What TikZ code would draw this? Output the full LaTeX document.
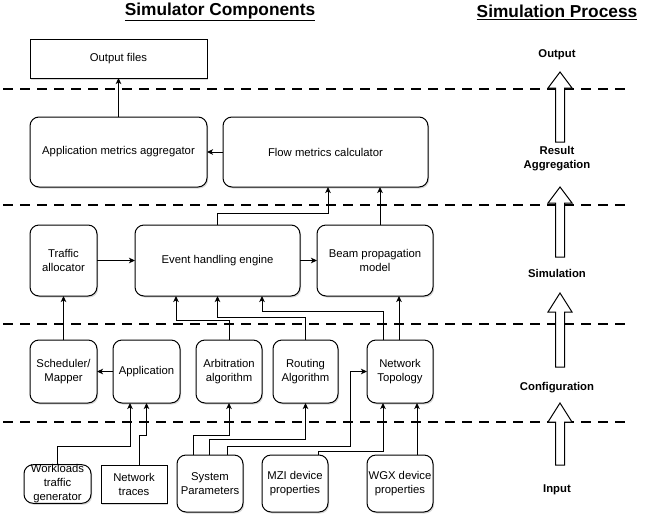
\documentclass[tikz,border=0pt]{standalone}
\usepackage{fontspec}
\setmainfont{Liberation Sans}
\usetikzlibrary{arrows.meta,shadows}
\newcommand\blockarrow[3]{\draw[blk] (560,#1) -- (572,#2) -- (564.5,#2) -- (564.5,#3) -- (555.5,#3) -- (555.5,#2) -- (548,#2) -- cycle;}
\begin{document}
\begin{tikzpicture}[x=1pt,y=-1pt,
  base/.style={draw, line width=1pt, fill=white, inner sep=1pt, outer sep=0pt, align=center,
    font=\fontsize{11.3}{14}\selectfont,
    drop shadow={shadow xshift=1.2pt,shadow yshift=-1.5pt,opacity=0.3}},
  rbox/.style={base, rounded corners=9pt},
  sbox/.style={base},
  wh/.style 2 args={minimum width=#1pt, minimum height=#2pt},
  conn/.style={line width=1pt, -{Stealth[length=6pt,width=5.5pt,inset=1.5pt]}},
  sep/.style={line width=2.5pt, dash pattern=on 10pt off 7pt},
  stage/.style={font=\bfseries\fontsize{11.3}{14}\selectfont, align=center},
  title/.style={font=\bfseries\fontsize{17.3}{20}\selectfont},
  blk/.style={draw, line width=1pt, fill=white}
]
\useasboundingbox (0,0) rectangle (646,515);

% separators
\foreach \yy in {89,205,324,422} {\draw[sep] (3,\yy) -- (625,\yy);}

% titles
\node[title] (t1) at (220,12) {\underline{Simulator Components}};
\node[title] (t2) at (557,12) {\underline{Simulation Process}};

% boxes
\node[sbox, wh={177}{39}] (out) at (118.5,58.5) {Output files};
\node[rbox, wh={177}{70}] (agg) at (118.5,152) {Application metrics aggregator};
\node[rbox, wh={205}{70}] (flow) at (325.5,152) {Flow metrics calculator};
\node[rbox, wh={67}{71}] (traf) at (63.5,260.5) {Traffic\\allocator};
\node[rbox, wh={165}{71}] (event) at (217.5,260.5) {Event handling engine};
\node[rbox, wh={116}{71}] (beam) at (375,260.5) {Beam propagation\\model};
\node[rbox, wh={67}{63}] (sched) at (63.5,371.5) {Scheduler/\\Mapper};
\node[rbox, wh={67}{63}] (app) at (146.5,371.5) {Application};
\node[rbox, wh={66}{63}] (arb) at (229,371.5) {Arbitration\\algorithm};
\node[rbox, wh={65}{63}] (rout) at (305.5,371.5) {Routing\\Algorithm};
\node[rbox, wh={66}{63}] (net) at (400,371.5) {Network\\Topology};
\node[rbox, wh={67}{38}, inner sep=0pt] (work) at (57.5,484) {Workloads\\traffic\\generator};
\node[sbox, wh={66}{38}] (traces) at (134,484) {Network\\traces};
\node[rbox, wh={66}{57}] (sys) at (210,483.5) {System\\Parameters};
\node[rbox, wh={66}{57}] (mzi) at (295,483.5) {MZI device\\properties};
\node[rbox, wh={66}{57}] (wgx) at (400,483.5) {WGX device\\properties};

% connectors
\draw[conn] (agg.north) -- (out.south);
\draw[conn] (flow.west) -- (agg.east);
\draw[conn] (traf.east) -- (event.west);
\draw[conn] (event.east) -- (beam.west);
\draw[conn] (event.north) |- (328,213) -- (328,213 |- flow.south);
\coordinate (bn) at ([xshift=5pt]beam.north);
\draw[conn] (bn) -- (bn |- flow.south);
\draw[conn] (sched.north) -- (traf.south);
\draw[conn] (app.west) -- (sched.east);
\draw[conn] (arb.north) |- (176,320) -- (176,320 |- event.south);
\draw[conn] (rout.north) |- (event.south |- 0,317) -- (event.south);
\coordinate (n1) at ([xshift=-17pt]net.north);
\draw[conn] (n1) |- (262,311) -- (262,311 |- event.south);
\coordinate (n2) at ([xshift=-1pt]net.north);
\draw[conn] (n2) -- (n2 |- beam.south);
\draw[conn] (work.north) |- (130,446) -- (130,446 |- app.south);
\coordinate (tr) at ([xshift=5pt]traces.north);
\draw[conn] (tr) |- (app.south |- 0,435) -- (app.south);
\coordinate (s1) at ([xshift=-17pt]sys.north);
\draw[conn] (s1) |- (arb.south |- 0,435) -- (arb.south);
\coordinate (s2) at ([xshift=-1pt]sys.north);
\draw[conn] (s2) |- (rout.south |- 0,439) -- (rout.south);
\coordinate (s3) at ([xshift=17pt]sys.north);
\draw[conn] (s3) |- (350,446) |- (net.west);
\coordinate (m1) at ([xshift=23pt]mzi.north);
\coordinate (n3) at ([xshift=-17pt]net.south);
\draw[conn] (m1) |- (n3 |- 0,451) -- (n3);
\coordinate (w1) at ([xshift=17pt]wgx.north);
\draw[conn] (w1) -- (w1 |- net.south);

% process column
\blockarrow{72}{88}{142}
\blockarrow{187}{203}{257}
\blockarrow{293}{312}{367}
\blockarrow{403}{422}{465}
\node[stage] (sOut) at (557,55) {Output};
\node[stage] (sRes) at (557,159) {Result\\Aggregation};
\node[stage] (sSim) at (557,273) {Simulation};
\node[stage] (sCfg) at (557,388) {Configuration};
\node[stage] (sIn) at (557,490) {Input};
\end{tikzpicture}
\end{document}
